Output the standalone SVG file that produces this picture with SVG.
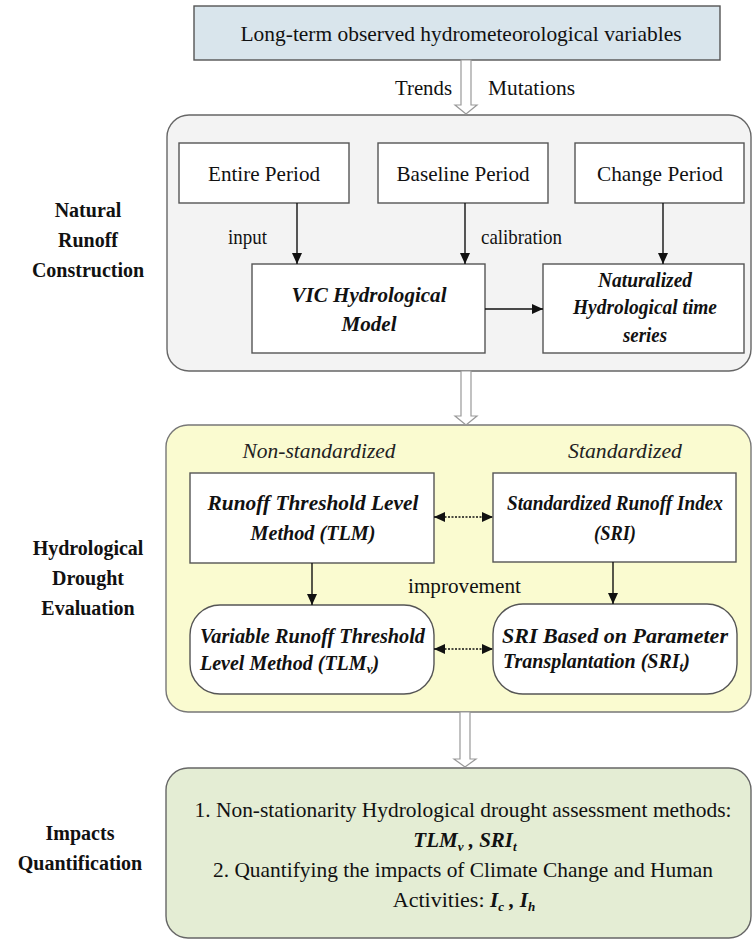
<svg xmlns="http://www.w3.org/2000/svg" width="753" height="940" viewBox="0 0 753 940">
<style>
text{font-family:"Liberation Serif","Times New Roman",Times,Tinos,"Nimbus Roman","Noto Serif","DejaVu Serif",serif}
.t{font-size:22px;fill:#111}
.t2{font-size:21px;fill:#111}
.bi{font-size:21px;font-weight:bold;font-style:italic;fill:#111}
.it{font-size:22px;font-style:italic;fill:#222}
.lb{font-size:20px;font-weight:bold;fill:#111;text-anchor:middle}
.box{fill:#fff;stroke:#555;stroke-width:1.4}
.con{stroke:#111;stroke-width:1.4;fill:none}
.dot{stroke:#111;stroke-width:1.4;fill:none;stroke-dasharray:2 1.5}
.hol{fill:#fff;stroke:#999;stroke-width:1.2}
</style>
<defs>
<marker id="ah" markerUnits="userSpaceOnUse" markerWidth="12" markerHeight="11" refX="11" refY="5" orient="auto-start-reverse">
<path d="M0,0 L11,5 L0,10 z" fill="#111"/>
</marker>
</defs>
<rect width="753" height="940" fill="#fff"/>

<g id="labels">
<text class="lb" x="88" y="217">Natural</text>
<text class="lb" x="88" y="247">Runoff</text>
<text class="lb" x="88" y="277">Construction</text>
<text class="lb" x="88" y="555">Hydrological</text>
<text class="lb" x="88" y="585">Drought</text>
<text class="lb" x="88" y="615">Evaluation</text>
<text class="lb" x="80" y="840">Impacts</text>
<text class="lb" x="80" y="870">Quantification</text>
</g>

<g id="panel-natural">
<rect x="167" y="115" width="584" height="256" rx="22" fill="#f3f3f3" stroke="#666" stroke-width="1.4"/>
</g>
<g id="panel-drought">
<rect x="166" y="425" width="585" height="287" rx="22" fill="#fafbd0" stroke="#777" stroke-width="1.4"/>
<text class="it" x="319" y="458" text-anchor="middle" textLength="153" lengthAdjust="spacingAndGlyphs">Non-standardized</text>
<text class="it" x="625" y="458" text-anchor="middle" textLength="114" lengthAdjust="spacingAndGlyphs">Standardized</text>
</g>
<g id="panel-impacts">
<rect x="166" y="768" width="585" height="170" rx="22" fill="#e4edd4" stroke="#666" stroke-width="1.4"/>
<text class="t2" x="463" y="817" text-anchor="middle" textLength="537" lengthAdjust="spacingAndGlyphs">1. Non-stationarity Hydrological drought assessment methods:</text>
<text class="bi" x="465" y="847" text-anchor="middle">TLM<tspan style="font-size:13px" dy="4">v</tspan><tspan dy="-4"> , SRI</tspan><tspan style="font-size:13px" dy="4">t</tspan></text>
<text class="t2" x="463" y="877" text-anchor="middle" textLength="500" lengthAdjust="spacingAndGlyphs">2. Quantifying the impacts of Climate Change and Human</text>
<text class="t" x="464" y="907" text-anchor="middle">Activities: <tspan class="bi">I</tspan><tspan class="bi" style="font-size:13px" dy="4">c</tspan><tspan class="bi" dy="-4"> , I</tspan><tspan class="bi" style="font-size:13px" dy="4">h</tspan></text>
</g>

<g id="n-observed">
<rect x="194" y="6" width="526" height="54" fill="#d9e5ec" stroke="#555" stroke-width="1.4"/>
<text class="t" x="461" y="41" text-anchor="middle" textLength="441" lengthAdjust="spacingAndGlyphs">Long-term observed hydrometeorological variables</text>
</g>
<g id="n-entire">
<rect class="box" x="179" y="143" width="170" height="60"/>
<text class="t" x="264" y="181" text-anchor="middle" textLength="112" lengthAdjust="spacingAndGlyphs">Entire Period</text>
</g>
<g id="n-baseline">
<rect class="box" x="378" y="143" width="170" height="60"/>
<text class="t" x="463" y="181" text-anchor="middle" textLength="133" lengthAdjust="spacingAndGlyphs">Baseline Period</text>
</g>
<g id="n-change">
<rect class="box" x="575" y="143" width="169" height="60"/>
<text class="t" x="660" y="181" text-anchor="middle" textLength="126" lengthAdjust="spacingAndGlyphs">Change Period</text>
</g>
<g id="n-vic">
<rect class="box" x="252" y="264" width="233" height="89"/>
<text class="bi" x="369" y="302" text-anchor="middle" textLength="155" lengthAdjust="spacingAndGlyphs">VIC Hydrological</text>
<text class="bi" x="369" y="331" text-anchor="middle" textLength="55" lengthAdjust="spacingAndGlyphs">Model</text>
</g>
<g id="n-naturalized">
<rect class="box" x="543" y="264" width="201" height="89"/>
<text class="bi" x="645" y="287" text-anchor="middle" textLength="94" lengthAdjust="spacingAndGlyphs">Naturalized</text>
<text class="bi" x="645" y="314" text-anchor="middle" textLength="144" lengthAdjust="spacingAndGlyphs">Hydrological time</text>
<text class="bi" x="645" y="342" text-anchor="middle" textLength="44" lengthAdjust="spacingAndGlyphs">series</text>
</g>
<g id="n-tlm">
<rect class="box" x="190" y="473" width="244" height="90"/>
<text class="bi" x="313" y="510" text-anchor="middle" textLength="211" lengthAdjust="spacingAndGlyphs">Runoff  Threshold Level</text>
<text class="bi" x="313" y="540" text-anchor="middle" textLength="125" lengthAdjust="spacingAndGlyphs">Method (TLM)</text>
</g>
<g id="n-sri">
<rect class="box" x="493" y="473" width="243" height="89"/>
<text class="bi" x="615" y="510" text-anchor="middle" textLength="216" lengthAdjust="spacingAndGlyphs">Standardized Runoff Index</text>
<text class="bi" x="615" y="540" text-anchor="middle" textLength="42" lengthAdjust="spacingAndGlyphs">(SRI)</text>
</g>
<g id="n-tlmv">
<rect class="box" x="190" y="605" width="244" height="89" rx="30"/>
<text class="bi" x="200" y="643" textLength="225" lengthAdjust="spacingAndGlyphs">Variable Runoff  Threshold</text>
<text class="bi" x="200" y="670" style="font-size:20px">Level Method  (TLM<tspan style="font-size:13px" dy="3">v</tspan><tspan dy="-3">)</tspan></text>
</g>
<g id="n-srit">
<rect class="box" x="493" y="604" width="244" height="90" rx="30"/>
<text class="bi" x="502" y="643" textLength="226" lengthAdjust="spacingAndGlyphs">SRI Based on Parameter</text>
<text class="bi" x="503" y="668" style="font-size:20px">Transplantation (SRI<tspan style="font-size:13px" dy="3">t</tspan><tspan dy="-3">)</tspan></text>
</g>

<g id="connectors">
<polygon class="hol" points="461,60 471,60 471,105 477,105 466,114 455,105 461,105"/>
<polygon class="hol" points="461,371 471,371 471,416 477,416 466,425 455,416 461,416"/>
<polygon class="hol" points="460,712 470,712 470,759 476,759 465,767 454,759 460,759"/>
<text class="t" x="452" y="95" text-anchor="end" textLength="57" lengthAdjust="spacingAndGlyphs">Trends</text>
<text class="t" x="488" y="95" textLength="87" lengthAdjust="spacingAndGlyphs">Mutations</text>
<line class="con" x1="297" y1="203" x2="297" y2="264" marker-end="url(#ah)"/>
<line class="con" x1="465" y1="203" x2="465" y2="264" marker-end="url(#ah)"/>
<line class="con" x1="663" y1="203" x2="663" y2="264" marker-end="url(#ah)"/>
<line class="con" x1="485" y1="309" x2="543" y2="309" marker-end="url(#ah)"/>
<text class="t" x="228" y="244" textLength="39" lengthAdjust="spacingAndGlyphs">input</text>
<text class="t" x="481" y="244" textLength="81" lengthAdjust="spacingAndGlyphs">calibration</text>
<line class="dot" x1="434" y1="517" x2="493" y2="517" marker-start="url(#ah)" marker-end="url(#ah)"/>
<line class="dot" x1="434" y1="649" x2="493" y2="649" marker-start="url(#ah)" marker-end="url(#ah)"/>
<line class="con" x1="312" y1="563" x2="312" y2="605" marker-end="url(#ah)"/>
<line class="con" x1="613" y1="562" x2="613" y2="604" marker-end="url(#ah)"/>
<text class="t" x="408" y="593" textLength="113" lengthAdjust="spacingAndGlyphs">improvement</text>
</g>
</svg>
